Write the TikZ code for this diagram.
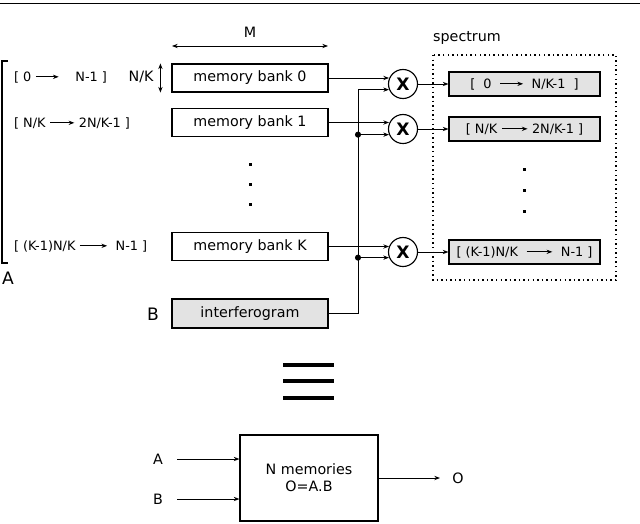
\documentclass[tikz,border=0pt]{standalone}
\usepackage{fontspec}
\setmainfont{DejaVu Sans}
\usetikzlibrary{arrows.meta}
\newcommand{\rng}[1]{\tikz[baseline=-0.6ex,x=1pt,y=1pt]\draw[line width=0.6pt,-{Stealth[length=4pt,width=3pt]}] (0,0) -- (#1,0);}

\begin{document}
\begin{tikzpicture}[x=0.7pt,y=-0.7pt,font=\normalsize,line width=0.6pt,
  bank/.style={draw,line width=0.8pt,minimum width=109.2pt,minimum height=19.6pt,inner sep=0pt},
  specbox/.style={draw,line width=0.8pt,fill=gray!22,minimum width=105.7pt,minimum height=16.8pt,inner sep=0pt,font=\small},
  mult/.style={draw,circle,line width=0.8pt,minimum size=20.3pt,inner sep=0pt,font=\large\bfseries},
  feed/.style={-{Stealth[length=4pt,width=3pt]}},
  both/.style={{Stealth[length=4pt,width=3pt]}-{Stealth[length=4pt,width=3pt]}},
  addr/.style={anchor=west,font=\small}]
\useasboundingbox (0,0) rectangle (640,523);

%top rule
\draw (0,3) -- (640,3);

%memory banks
\node[bank] (bank0) at (250,78) {memory bank 0};
\node[bank] (bank1) at (250,122.5) {memory bank 1};
\node[bank] (bankK) at (250,246.5) {memory bank K};
\foreach \y in {164,184,204}
  \fill (248.5,\y-1.5) rectangle ++(3,3);

\node (lblM) at (250,32) {M};
\draw[both] (172,46) -- (328,46);
\node (lblNK) at (141,77) {N/K};
\draw[both] ([xshift=-7.7pt]bank0.north west) -- ([xshift=-7.7pt]bank0.south west);

%address ranges
\node[addr] (r0) at (9,77) {[ 0 \rng{16} \ \ \ N-1 ]};
\node[addr] (r1) at (9,123) {[ N/K \rng{17} 2N/K-1 ]};
\node[addr] (rK) at (9,246) {[ (K-1)N/K \rng{19} \ N-1 ]};
\draw[line width=1pt] (8,61) -| (2,263) -- (8,263);
\node[font=\large] (lblA) at (8,278) {A};

%interferogram
\node[bank,fill=gray!22,minimum height=20.3pt] (intf) at (250,313.5) {interferogram};
\node[font=\large] (lblB) at (153,314) {B};

%multipliers
\node[mult] (mul0) at (403,84) {X};
\node[mult] (mul1) at (403,129) {X};
\node[mult] (mulK) at (403,252) {X};

\draw[feed] (bank0.east) -- (bank0.east -| mul0.158);
\draw[feed] (bank1.east) -- (bank1.east -| mul1.158);
\draw[feed] (bankK.east) -- (bankK.east -| mulK.158);

\coordinate (bus) at (358,0);
\coordinate (j0) at (bus |- mul0.202);
\coordinate (j1) at (bus |- mul1.202);
\coordinate (jK) at (bus |- mulK.202);
\draw[feed] (intf.east) -| (j0) -- (j0 -| mul0.202);
\draw[feed] (j1) -- (j1 -| mul1.202);
\draw[feed] (jK) -- (jK -| mulK.202);
\draw[fill] (j1) circle (1.8pt);
\draw[fill] (jK) circle (1.8pt);

%spectrum
\draw[line width=1pt,dash pattern=on 1pt off 2.2pt] (433,55) rectangle (616,280);
\node[anchor=west] (lblS) at (428,38) {spectrum};
\node[specbox] (spec0) at (524.5,84) {[ \ 0 \ \rng{16} \ N/K-1 \ ]};
\node[specbox] (spec1) at (524.5,129) {[ N/K \rng{18} 2N/K-1 ]};
\node[specbox] (specK) at (524.5,252) {[ (K-1)N/K \ \rng{18} \ N-1 ]};
\foreach \y in {169,190,211}
  \fill (522.5,\y-1.5) rectangle ++(3,3);

\draw[feed] (mul0.east) -- (spec0.west);
\draw[feed] (mul1.east) -- (spec1.west);
\draw[feed] (mulK.east) -- (specK.west);

%equivalence
\foreach \y in {365,381,398}
  \draw[line width=2.2pt] (283,\y) -- (334,\y);

%summary block
\node[draw,line width=0.8pt,minimum width=96.6pt,minimum height=60.2pt,align=center] (mem) at (309,478) {N memories\\O=A.B};
\node (inA) at (158,459) {A};
\node (inB) at (158,499) {B};
\node (outO) at (458,478) {O};
\draw[feed] ([xshift=13.3pt]inA.center) -- (inA -| mem.west);
\draw[feed] ([xshift=13.3pt]inB.center) -- (inB -| mem.west);
\draw[feed] (mem.east |- outO) -- ([xshift=-12.6pt]outO.center);

\end{tikzpicture}
\end{document}
